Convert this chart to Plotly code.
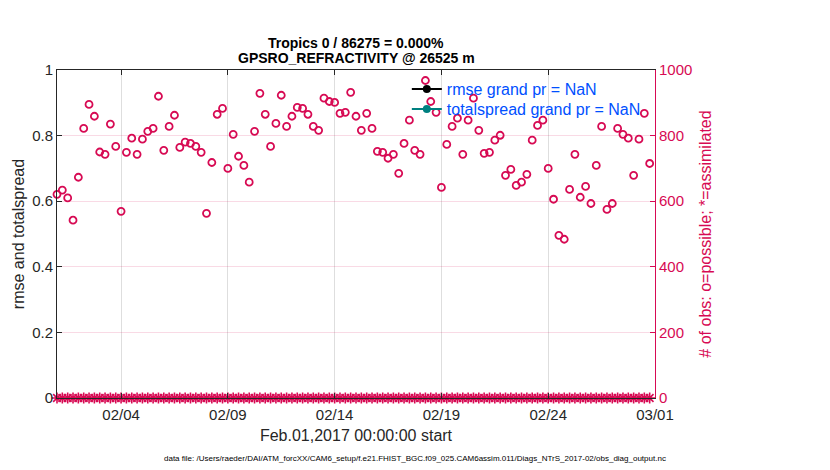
import numpy as np
import pandas as pd
import plotly.graph_objects as go

# 6-hourly bins, Feb 1 2017 00Z onward
start = "2017-02-01 00:00"
n_bins = 112

# number of obs possible per bin
n_possible = [
    621, 634, 610, 542, 673, 822, 895, 859, 750, 743, 835, 767, 569, 749, 792, 743,
    789, 813, 822, 920, 755, 828, 862, 764, 780, 776, 767, 749, 563, 718, 865, 883,
    700, 804, 737, 709, 658, 813, 929, 865, 767, 837, 923, 828, 859, 886, 883, 865,
    828, 816, 914, 904, 901, 868, 871, 932, 859, 816, 868, 822, 752, 749, 731, 743,
    685, 776, 847, 755, 743, 968, 904, 871, 642, 773, 828, 853, 743, 847, 914, 816,
    746, 749, 786, 801, 679, 697, 648, 658, 682, 786, 831, 847, 700, 606, 496, 484,
    636, 743, 612, 645, 593, 709, 828, 575, 593, 822, 804, 792, 679, 789, 868, 715,
]

# number of obs assimilated per bin
n_used = [
    0, 0, 0, 0, 0, 0, 0, 0, 0, 0, 0, 0, 0, 0, 0, 0,
    0, 0, 0, 0, 0, 0, 0, 0, 0, 0, 0, 0, 0, 0, 0, 0,
    0, 0, 0, 0, 0, 0, 0, 0, 0, 0, 0, 0, 0, 0, 0, 0,
    0, 0, 0, 0, 0, 0, 0, 0, 0, 0, 0, 0, 0, 0, 0, 0,
    0, 0, 0, 0, 0, 0, 0, 0, 0, 0, 0, 0, 0, 0, 0, 0,
    0, 0, 0, 0, 0, 0, 0, 0, 0, 0, 0, 0, 0, 0, 0, 0,
    0, 0, 0, 0, 0, 0, 0, 0, 0, 0, 0, 0, 0, 0, 0, 0,
]

# rmse / totalspread are all missing for this region
rmse = [None]
totalspread = [None]

x_ticks = ["2017-02-04", "2017-02-09", "2017-02-14", "2017-02-19", "2017-02-24", "2017-03-01"]
x_range = ["2017-02-01", "2017-03-01"]

times = pd.date_range(start, periods=n_bins, freq="6h")

crimson = "rgb(215,10,83)"
teal = "rgb(0,128,128)"
blue = "rgb(0,80,255)"
font = "Liberation Sans, Arial, sans-serif"

fig = go.Figure()

fig.add_trace(go.Scatter(
    x=[times[0]], y=rmse, mode="lines+markers", name="rmse grand pr = NaN",
    line=dict(color="black", width=2), marker=dict(size=8, color="black"),
    legend="legend",
))
fig.add_trace(go.Scatter(
    x=[times[0]], y=totalspread, mode="lines+markers", name="totalspread grand pr = NaN",
    line=dict(color=teal, width=2), marker=dict(size=8, color=teal),
    legend="legend2",
))
fig.add_trace(go.Scatter(
    x=times, y=n_possible, mode="markers", yaxis="y2", showlegend=False,
    marker=dict(symbol="circle-open", size=7, color=crimson, line=dict(width=1.8, color=crimson)),
    cliponaxis=False,
))
fig.add_trace(go.Scatter(
    x=times, y=n_used, mode="markers", yaxis="y2", showlegend=False,
    marker=dict(symbol="asterisk-open", size=9, color=crimson, line=dict(width=1.6, color=crimson)),
    cliponaxis=False,
))

legend_style = dict(
    x=0.585, xanchor="left", yanchor="middle",
    bgcolor="rgba(0,0,0,0)", font=dict(size=16, color=blue), itemwidth=30,
)

fig.update_layout(
    width=830, height=470,
    margin=dict(l=57, r=175, t=70, b=72),
    paper_bgcolor="white", plot_bgcolor="white",
    font=dict(family=font, size=15, color="#262626"),
    xaxis=dict(
        type="date", range=x_range, tickvals=x_ticks, tickformat="%m/%d",
        showgrid=True, gridcolor="rgb(222,222,222)", gridwidth=1,
        ticks="inside", ticklen=5, tickcolor="#262626",
        showline=True, linecolor="#262626", linewidth=1, mirror="ticks",
        zeroline=False, tickfont=dict(size=15), ticklabelstandoff=3,
        title=dict(text="Feb.01,2017 00:00:00 start", font=dict(size=16), standoff=7),
    ),
    yaxis=dict(
        range=[0, 1], dtick=0.2, showgrid=False, zeroline=False,
        ticks="inside", ticklen=5, tickcolor="#262626",
        showline=True, linecolor="#262626", linewidth=1,
        tickfont=dict(size=15, color="#262626"),
        title=dict(text="rmse and totalspread", font=dict(size=16), standoff=3),
    ),
    yaxis2=dict(
        overlaying="y", side="right", range=[0, 1000], dtick=200,
        showgrid=True, gridcolor="rgba(215,10,83,0.15)", zeroline=False,
        ticks="inside", ticklen=5, tickcolor=crimson,
        showline=True, linecolor=crimson, linewidth=1,
        tickfont=dict(size=15, color=crimson),
        title=dict(text="# of obs: o=possible; *=assimilated", font=dict(size=16, color=crimson), standoff=8),
    ),
    legend=dict(y=0.942, **legend_style),
    legend2=dict(y=0.881, **legend_style),
    annotations=[
        dict(text="<b>Tropics 0 / 86275 = 0.000%</b>", xref="paper", yref="paper",
             x=0.5, y=1.0, yanchor="middle", yshift=27, showarrow=False,
             font=dict(size=14, color="black")),
        dict(text="<b>GPSRO_REFRACTIVITY @ 26525 m</b>", xref="paper", yref="paper",
             x=0.5, y=1.0, yanchor="middle", yshift=12, showarrow=False,
             font=dict(size=14, color="black")),
        dict(text="data file: /Users/raeder/DAI/ATM_forcXX/CAM6_setup/f.e21.FHIST_BGC.f09_025.CAM6assim.011/Diags_NTrS_2017-02/obs_diag_output.nc",
             xref="paper", yref="paper", x=0.599, y=0, yanchor="middle", yshift=-60,
             showarrow=False, font=dict(size=8, color="black")),
    ],
)

# drop the default page margin so the figure sits at the window corner
fig.write_html("out.html", config={"displayModeBar": False},
               post_script="document.body.style.margin='0';")
